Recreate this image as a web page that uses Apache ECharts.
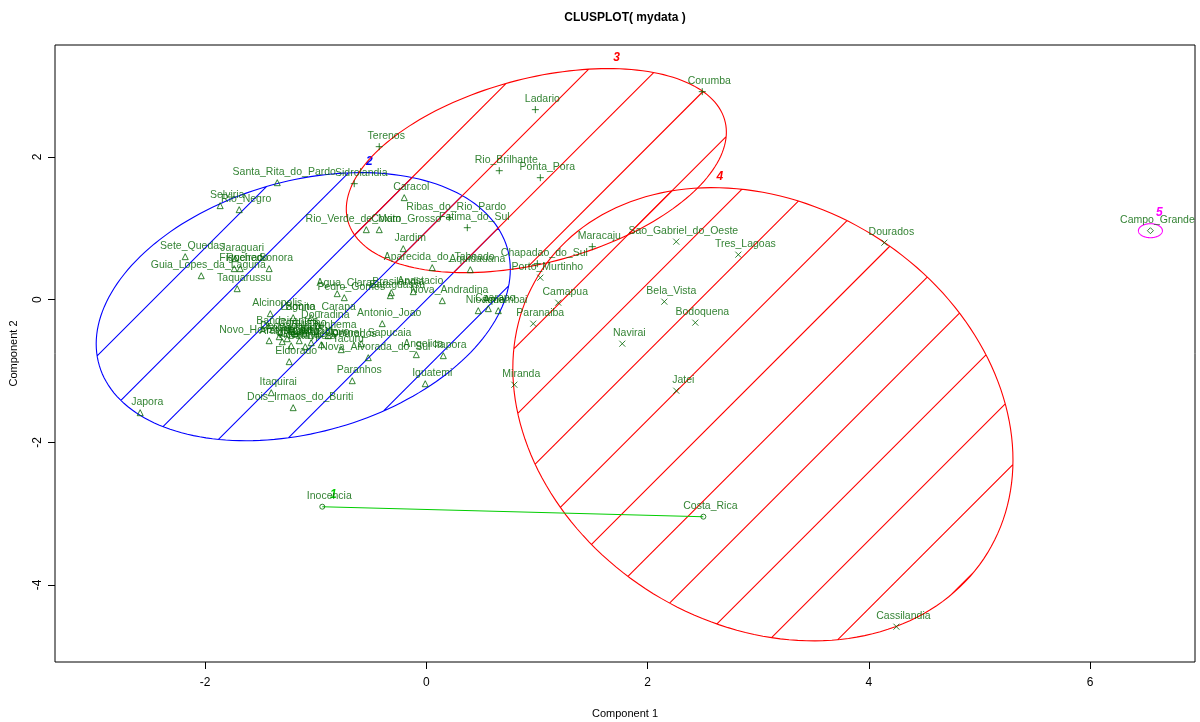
<!DOCTYPE html>
<html>
<head>
<meta charset="utf-8">
<title>CLUSPLOT( mydata )</title>
<script src="https://cdn.jsdelivr.net/npm/echarts@6/dist/echarts.min.js"></script>
<style>
  html, body { margin: 0; padding: 0; background: #fff; }
  #chart { width: 1200px; height: 722px; }
</style>
</head>
<body>
<div id="chart"></div>
<script>
// municipalities, their two principal components and cluster id
const names = [
  'Inocencia', 'Costa_Rica',
  'Agua_Clara', 'Alcinopolis', 'Amambai', 'Anastacio', 'Anaurilandia', 'Angelica', 'Antonio_Joao',
  'Aparecida_do_Taboado', 'Aquidauana', 'Aral_Moreira', 'Bandeirantes', 'Bataguassu', 'Bataypora',
  'Bonito', 'Brasilandia', 'Caarapo', 'Caracol', 'Corguinho', 'Coronel_Sapucaia', 'Coxim', 'Deodapolis',
  'Dois_Irmaos_do_Buriti', 'Douradina', 'Eldorado', 'Figueirao', 'Gloria_de_Dourados',
  'Guia_Lopes_da_Laguna', 'Iguatemi', 'Itapora', 'Itaquirai', 'Ivinhema', 'Japora', 'Jaraguari',
  'Jardim', 'Juti', 'Laguna_Carapa', 'Mundo_Novo', 'Nioaque', 'Nova_Alvorada_do_Sul', 'Nova_Andradina',
  'Novo_Horizonte_do_Sul', 'Paranhos', 'Pedro_Gomes', 'Rio_Negro', 'Rio_Verde_de_Mato_Grosso', 'Rochedo',
  'Santa_Rita_do_Pardo', 'Selviria', 'Sete_Quedas', 'Sonora', 'Tacuru', 'Taquarussu', 'Vicentina',
  'Terenos', 'Sidrolandia', 'Ladario', 'Corumba', 'Rio_Brilhante', 'Ponta_Pora', 'Ribas_do_Rio_Pardo',
  'Fatima_do_Sul', 'Maracaju', 'Chapadao_do_Sul',
  'Porto_Murtinho', 'Camapua', 'Paranaiba', 'Miranda', 'Sao_Gabriel_do_Oeste', 'Tres_Lagoas', 'Dourados',
  'Bela_Vista', 'Bodoquena', 'Navirai', 'Jatei', 'Cassilandia',
  'Campo_Grande'
];
const comp1 = [
  -0.940, 2.505,
  -0.805, -1.410, 0.651, -0.118, -1.257, -0.090, -0.398,
  0.054, 0.398, -1.302, -1.320, -0.325, -1.094,
  -1.203, -0.316, 0.561, -0.199, -1.184, -0.588, -0.425, -1.329,
  -1.203, -0.976, -1.239, -1.736, -0.949,
  -2.034, -0.009, 0.154, -1.401, -0.886, -2.586, -1.727,
  -0.208, -1.148, -1.040, -1.040, 0.470, -0.524, 0.145,
  -1.420, -0.669, -0.741, -1.691, -0.542, -1.682,
  -1.347, -1.863, -2.179, -1.420, -0.769, -1.709, -1.221,
  -0.425, -0.651, 0.986, 2.495, 0.660, 1.031, 0.208,
  0.371, 1.501, 1.004,
  1.031, 1.193, 0.967, 0.796, 2.260, 2.821, 4.141,
  2.152, 2.432, 1.772, 2.260, 4.250,
  6.546
];
const comp2 = [
  -2.902, -3.042,
  0.084, -0.196, -0.154, 0.112, -0.547, -0.771, -0.336,
  0.449, 0.421, -0.589, -0.449, 0.056, -0.659,
  -0.252, 0.098, -0.126, 1.430, -0.477, -0.617, 0.981, -0.519,
  -1.514, -0.365, -0.869, 0.435, -0.631,
  0.336, -1.178, -0.785, -1.304, -0.505, -1.584, 0.575,
  0.715, -0.575, -0.252, -0.603, -0.154, -0.813, -0.014,
  -0.575, -1.136, 0.028, 1.262, 0.981, 0.435,
  1.640, 1.318, 0.603, 0.435, -0.701, 0.154, -0.645,
  2.145, 1.626, 2.664, 2.916, 1.808, 1.710, 1.150,
  1.009, 0.743, 0.505,
  0.308, -0.042, -0.336, -1.192, 0.813, 0.631, 0.799,
  -0.028, -0.322, -0.617, -1.276, -4.584,
  0.967
];
const cluster = [
  1, 1,
  2, 2, 2, 2, 2, 2, 2, 2, 2, 2, 2, 2, 2, 2, 2, 2, 2, 2, 2, 2, 2, 2, 2, 2, 2, 2,
  2, 2, 2, 2, 2, 2, 2, 2, 2, 2, 2, 2, 2, 2, 2, 2, 2, 2, 2, 2, 2, 2, 2, 2, 2, 2, 2,
  3, 3, 3, 3, 3, 3, 3, 3, 3, 3,
  4, 4, 4, 4, 4, 4, 4, 4, 4, 4, 4, 4,
  5
];

// cluster ellipses: centre and spread matrix, in component units
const ellCluster = [2, 3, 4, 5];
const ellCx = [-1.112, 0.995, 3.043, 6.546];
const ellCy = [-0.098, 1.809, -1.606, 0.967];
const ellSxx = [3.503, 2.951, 5.110, 0.01177];
const ellSyy = [3.532, 2.046, 10.090, 0.00964];
const ellSxy = [0.976, 0.926, -1.45, 0];

const xTicks = [-2, 0, 2, 4, 6];
const yTicks = [-4, -2, 0, 2];

const clusterColor = { 1: '#00cd00', 2: '#0000ff', 3: '#ff0000', 4: '#ff0000', 5: '#ff00ff' };
const clusterSymbol = {
  1: 'circle',
  2: 'triangle',
  3: 'path://M5,0L5,10M0,5L10,5',
  4: 'path://M0,0L10,10M10,0L0,10',
  5: 'diamond'
};
const clusterSize = { 1: 5, 2: 6, 3: 7, 4: 6, 5: 6 };
const ptColor = '#006400';
const HATCH0 = 453;
const HATCH_GAP = 68.3;
const LINE_W = 1.1;
const numFont = 'italic bold 12px "Liberation Sans", Arial, sans-serif';

const chart = echarts.init(document.getElementById('chart'));

function renderEllipse(params, api) {
  const i = api.value(2);
  const a = Math.sqrt(ellSxx[i]);
  const b = ellSxy[i] / a;
  const c = Math.sqrt(ellSyy[i] - b * b);
  const pts = [];
  for (let d = 0; d < 360; d += 2) {
    const t = d * Math.PI / 180;
    pts.push(api.coord([ellCx[i] + a * Math.cos(t), ellCy[i] + b * Math.cos(t) + c * Math.sin(t)]));
  }
  const color = clusterColor[ellCluster[i]];
  let lo = Infinity, hi = -Infinity, top = pts[0];
  pts.forEach(p => {
    lo = Math.min(lo, p[0] + p[1]);
    hi = Math.max(hi, p[0] + p[1]);
    if (p[1] < top[1]) top = p;
  });
  // shading lines at 45 degrees, gathered in one path
  let hatch = '';
  for (let k = HATCH0 + Math.ceil((lo - HATCH0) / HATCH_GAP) * HATCH_GAP; k < hi; k += HATCH_GAP) {
    const hits = [];
    for (let j = 0; j < pts.length; j++) {
      const p = pts[j], q = pts[(j + 1) % pts.length];
      const fp = p[0] + p[1] - k, fq = q[0] + q[1] - k;
      if ((fp <= 0) !== (fq <= 0)) {
        const u = fp / (fp - fq);
        hits.push([p[0] + u * (q[0] - p[0]), p[1] + u * (q[1] - p[1])]);
      }
    }
    if (hits.length >= 2) {
      hatch += 'M' + hits[0][0].toFixed(2) + ' ' + hits[0][1].toFixed(2) +
               'L' + hits[1][0].toFixed(2) + ' ' + hits[1][1].toFixed(2);
    }
  }
  const outline = 'M' + pts.map(p => p[0].toFixed(2) + ' ' + p[1].toFixed(2)).join('L') + 'Z';
  return {
    type: 'group',
    children: [
      { type: 'path', shape: { pathData: outline + hatch },
        style: { fill: 'none', stroke: color, lineWidth: LINE_W } },
      { type: 'text', x: top[0] + 9, y: top[1] - 11,
        style: { text: String(ellCluster[i]), fill: color, font: numFont, align: 'center', verticalAlign: 'middle' } }
    ]
  };
}

// two-member cluster is drawn as a segment
const pair = [];
cluster.forEach((c, i) => { if (c === 1) pair.push(i); });

function renderSegment(params, api) {
  const p1 = api.coord([api.value(0), api.value(1)]);
  const p2 = api.coord([api.value(2), api.value(3)]);
  const top = p1[1] < p2[1] ? p1 : p2;
  return {
    type: 'group',
    children: [
      { type: 'path', shape: { pathData: 'M' + p1[0] + ' ' + p1[1] + 'L' + p2[0] + ' ' + p2[1] },
        style: { fill: 'none', stroke: clusterColor[1], lineWidth: LINE_W } },
      { type: 'text', x: top[0] + 11, y: top[1] - 12,
        style: { text: '1', fill: clusterColor[1], font: numFont, align: 'center', verticalAlign: 'middle' } }
    ]
  };
}

const pointData = names.map((n, i) => ({
  name: n,
  value: [comp1[i], comp2[i]],
  symbol: clusterSymbol[cluster[i]],
  symbolSize: clusterSize[cluster[i]]
}));

const option = {
  animation: false,
  backgroundColor: '#fff',
  grid: {
    left: 55, top: 45, width: 1140, height: 617,
    show: true, borderColor: '#000', borderWidth: 1,
    containLabel: false, outerBoundsMode: 'none'
  },
  graphic: [{
    type: 'text', x: 625, y: 18,
    style: { text: 'CLUSPLOT( mydata )', font: 'bold 12px "Liberation Sans", Arial, sans-serif', fill: '#000', align: 'center', verticalAlign: 'middle' }
  }],
  xAxis: {
    type: 'value', min: -3.356, max: 6.949,
    name: 'Component 1', nameLocation: 'middle', nameGap: 46,
    nameTextStyle: { color: '#000', fontSize: 11, fontFamily: 'Liberation Sans' },
    axisLine: { show: false, onZero: false },
    axisTick: { show: true, length: 7, customValues: xTicks, lineStyle: { color: '#000' } },
    axisLabel: { customValues: xTicks, margin: 15, color: '#000', fontSize: 12, fontFamily: 'Liberation Sans' },
    splitLine: { show: false }
  },
  yAxis: {
    type: 'value', min: -5.079, max: 3.570,
    name: 'Component 2', nameLocation: 'middle', nameGap: 36,
    nameTextStyle: { color: '#000', fontSize: 11, fontFamily: 'Liberation Sans' },
    axisLine: { show: false, onZero: false },
    axisTick: { show: true, length: 7, customValues: yTicks, lineStyle: { color: '#000' } },
    axisLabel: { customValues: yTicks, rotate: 90, margin: 11, color: '#000', fontSize: 12, fontFamily: 'Liberation Sans' },
    splitLine: { show: false }
  },
  series: [
    {
      type: 'custom',
      renderItem: renderEllipse,
      data: ellCluster.map((c, i) => [ellCx[i], ellCy[i], i]),
      silent: true, z: 1
    },
    {
      type: 'custom',
      renderItem: renderSegment,
      data: [[comp1[pair[0]], comp2[pair[0]], comp1[pair[1]], comp2[pair[1]]]],
      silent: true, z: 1
    },
    {
      type: 'scatter',
      data: pointData,
      silent: true, z: 3,
      itemStyle: { color: 'transparent', borderColor: ptColor, borderWidth: 1 },
      label: {
        show: true, formatter: '{b}', position: 'inside', offset: [7, -11],
        color: ptColor, fontSize: 10.5, fontFamily: 'Liberation Sans'
      }
    }
  ]
};

chart.setOption(option);
</script>
</body>
</html>
